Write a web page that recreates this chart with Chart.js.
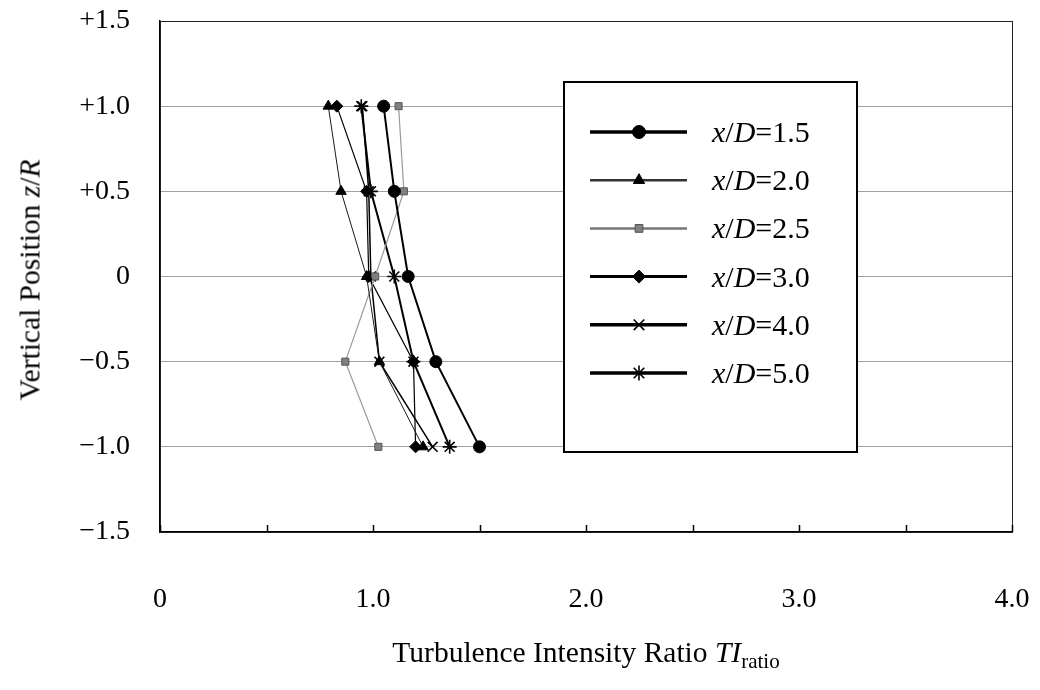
<!DOCTYPE html>
<html>
<head>
<meta charset="utf-8">
<script src="https://cdn.jsdelivr.net/npm/chart.js@4"></script>
<style>
  body { margin: 0; background: #fff; }
  #wrap { position: relative; width: 1040px; height: 690px; font-family: "Liberation Serif", "DejaVu Serif", serif; color: #000; }
  #myChart { position: absolute; left: 0; top: 0; }
  .ytitle { position: absolute; left: 30px; top: 280px; transform: translate(-50%, -50%) rotate(-90deg); font-size: 29.5px; white-space: nowrap; }
  .xtitle { position: absolute; left: 586px; top: 655px; transform: translate(-50%, -50%); font-size: 29.5px; white-space: nowrap; }
  .xtitle sub { font-size: 21px; vertical-align: -6px; }
  .leg { position: absolute; left: 712px; font-size: 30px; white-space: nowrap; transform: translateY(-50%); }
</style>
</head>
<body>
<div id="wrap">
  <canvas id="myChart" width="1040" height="690"></canvas>
  <div class="ytitle">Vertical Position <i>z</i>/<i>R</i></div>
  <div class="xtitle">Turbulence Intensity Ratio <i>TI</i><sub>ratio</sub></div>
  <div id="legendText"></div>
</div>
<script>
/**
 * data
 */
var zLevels = [1.0, 0.5, 0, -0.5, -1.0];
var seriesLabels = ['1.5', '2.0', '2.5', '3.0', '4.0', '5.0'];
var ti15 = [1.05, 1.10, 1.165, 1.295, 1.50];
var ti20 = [0.79, 0.85, 0.97, 1.03, 1.235];
var ti25 = [1.12, 1.145, 1.01, 0.87, 1.025];
var ti30 = [0.83, 0.97, 0.98, 1.19, 1.20];
var ti40 = [0.95, 0.98, 0.99, 1.03, 1.28];
var ti50 = [0.945, 0.99, 1.10, 1.19, 1.36];
var xTickLabels = ['0', '1.0', '2.0', '3.0', '4.0'];
var yTickLabels = ['+1.5', '+1.0', '+0.5', '0', '\u22120.5', '\u22121.0', '\u22121.5'];

var allSeries = [ti15, ti20, ti25, ti30, ti40, ti50];

// styles per series
var styles = [
  { c: '#000', w: 2,   ps: 'circle',   r: 6, fill: '#000', pw: 1,   lw: 3.5 },
  { c: '#1a1a1a', w: 1, ps: 'triangle', r: 6, fill: '#000', pw: 1,   lw: 2.5 },
  { c: '#9a9a9a', w: 1.2, ps: 'rect',   r: 5, fill: '#808080', pw: 1, lw: 2.5 },
  { c: '#000', w: 1.2, ps: 'rectRot',  r: 6, fill: '#000', pw: 1,   lw: 3 },
  { c: '#000', w: 1.5, ps: 'crossRot', r: 7, fill: '#000', pw: 1.6, lw: 3.5 },
  { c: '#000', w: 2,   ps: 'star',     r: 7, fill: '#000', pw: 1.6, lw: 3.5 }
];

var datasets = allSeries.map(function (vals, k) {
  var s = styles[k];
  return {
    label: 'x/D=' + seriesLabels[k],
    data: zLevels.map(function (z, i) { return { x: vals[i], y: z }; }),
    showLine: true,
    borderColor: s.c,
    borderWidth: s.w,
    pointStyle: s.ps,
    pointRadius: s.r,
    pointBackgroundColor: s.fill,
    pointBorderColor: k == 2 ? '#555' : '#000',
    pointBorderWidth: s.pw
  };
});

// frame + inward ticks on bottom axis
const framePlugin = {
  id: 'frame',
  beforeDatasetsDraw(chart) {
    const ctx = chart.ctx, a = chart.chartArea, xs = chart.scales.x;
    ctx.save();
    ctx.strokeStyle = '#222';
    ctx.lineWidth = 1;
    ctx.strokeRect(a.left + 0.5, a.top + 0.5, a.right - a.left, a.bottom - a.top);
    ctx.lineWidth = 1.5;
    ctx.strokeStyle = '#000';
    xs.ticks.forEach(function (t) {
      const px = Math.round(xs.getPixelForValue(t.value)) + 0.5;
      ctx.beginPath();
      ctx.moveTo(px, a.bottom);
      ctx.lineTo(px, a.bottom - 7);
      ctx.stroke();
    });
    ctx.restore();
  }
};

// legend box with symbols (text is html)
const legendBox = { left: 564, top: 82, right: 857, bottom: 452, row0: 132, rowStep: 48.2 };
const legendPlugin = {
  id: 'legendSymbols',
  afterDatasetsDraw(chart) {
    const ctx = chart.ctx;
    ctx.save();
    ctx.fillStyle = '#fff';
    ctx.fillRect(legendBox.left, legendBox.top, legendBox.right - legendBox.left, legendBox.bottom - legendBox.top);
    ctx.strokeStyle = '#000';
    ctx.lineWidth = 2;
    ctx.strokeRect(legendBox.left, legendBox.top, legendBox.right - legendBox.left, legendBox.bottom - legendBox.top);
    chart.data.datasets.forEach(function (ds, k) {
      const y = legendBox.row0 + k * legendBox.rowStep;
      ctx.strokeStyle = k == 2 ? '#777' : (k == 1 ? '#333' : '#000');
      ctx.lineWidth = styles[k].lw;
      ctx.beginPath();
      ctx.moveTo(590, y);
      ctx.lineTo(687, y);
      ctx.stroke();
      ctx.fillStyle = ds.pointBackgroundColor;
      ctx.strokeStyle = ds.pointBorderColor;
      ctx.lineWidth = ds.pointBorderWidth;
      Chart.helpers.drawPoint(ctx, { pointStyle: ds.pointStyle, radius: ds.pointRadius + 0.5, rotation: 0, borderWidth: ds.pointBorderWidth }, 639, y);
    });
    ctx.restore();
  }
};

const config = {
  type: 'scatter',
  data: { datasets: datasets },
  options: {
    responsive: false,
    animation: false,
    layout: { padding: { left: 0, top: 21, right: 28, bottom: 0 } },
    plugins: {
      legend: { display: false },
      tooltip: { enabled: false }
    },
    scales: {
      x: {
        type: 'linear',
        min: 0, max: 4,
        afterFit: function (s) { s.height = 158; s.paddingLeft = 0; s.paddingRight = 0; },
        ticks: {
          stepSize: 0.5,
          padding: 51,
          maxRotation: 0,
          autoSkip: false,
          color: '#000',
          font: { family: 'Liberation Serif', size: 28 },
          callback: function (v) {
            return Number.isInteger(v) ? xTickLabels[v] : '';
          }
        },
        grid: { display: false, drawTicks: false },
        border: { display: true, color: '#000', width: 1.5 }
      },
      y: {
        type: 'linear',
        min: -1.5, max: 1.5,
        afterFit: function (s) { s.width = 160; s.paddingTop = 0; s.paddingBottom = 0; },
        ticks: {
          stepSize: 0.5,
          padding: 30,
          color: '#000',
          font: { family: 'Liberation Serif', size: 28 },
          callback: function (v) {
            return yTickLabels[Math.round((1.5 - v) / 0.5)];
          }
        },
        grid: { color: '#a0a0a0', lineWidth: 1, drawTicks: false },
        border: { display: true, color: '#000', width: 1.5 }
      }
    }
  },
  plugins: [framePlugin, legendPlugin]
};

document.addEventListener('DOMContentLoaded', function () {
  myChart = new Chart(document.getElementById('myChart'), config);

  var holder = document.getElementById('legendText');
  seriesLabels.forEach(function (lab, k) {
    var d = document.createElement('div');
    d.className = 'leg';
    d.style.top = (legendBox.row0 + k * legendBox.rowStep) + 'px';
    d.innerHTML = '<i>x</i>/<i>D</i>=' + lab;
    holder.appendChild(d);
  });
});
</script>
</body>
</html>
